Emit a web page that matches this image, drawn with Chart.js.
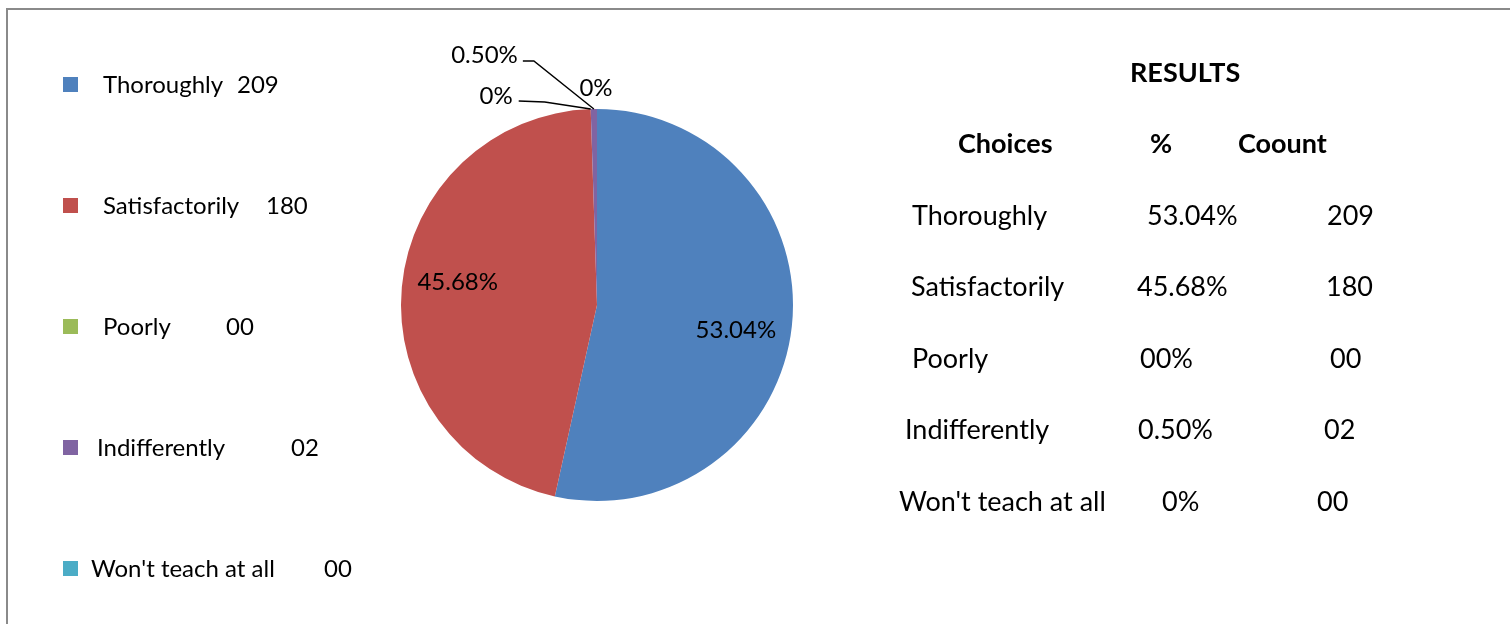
<!DOCTYPE html>
<html>
<head>
<meta charset="utf-8">
<script src="https://cdn.jsdelivr.net/npm/chart.js@4/dist/chart.umd.min.js"></script>
<style>
  html, body { margin: 0; padding: 0; background: #fff; }
  body { width: 1510px; height: 624px; position: relative; overflow: hidden; font-family: Lato, "Open Sans", sans-serif; color: #000; }
  #frame { position: absolute; left: 6px; top: 8px; width: 1520px; height: 640px; border-top: 2px solid #8a8a8a; border-left: 2px solid #8a8a8a; }
  #pie { position: absolute; left: 0; top: 0; }
  .leg { position: absolute; font-size: 24px; line-height: 30px; height: 30px; white-space: nowrap; }
  .leg .box { position: absolute; width: 15px; height: 15px; top: 8px; }
  .leg span { position: absolute; top: 0; }
  .tx { position: absolute; font-size: 27px; line-height: 34px; white-space: nowrap; transform: translateY(-50%); }
  .b { font-weight: bold; }
</style>
</head>
<body>
<div id="frame"></div>
<canvas id="pie" width="1510" height="624"></canvas>
<div id="legend"></div>
<div id="table"></div>
<script>
// ----------------------
// DATA
// ----------------------
const choices = ["Thoroughly", "Satisfactorily", "Poorly", "Indifferently", "Won't teach at all"];
const counts = [209, 180, 0, 2, 0];
const countLabels = ["209", "180", "00", "02", "00"];
const pctLabels = ["53.04%", "45.68%", "0%", "0.50%", "0%"];
const tablePct = ["53.04%", "45.68%", "00%", "0.50%", "0%"];
const colors = ["#4F81BD", "#C0504D", "#9BBB59", "#8064A2", "#4BACC6"];

// ----------------------
// LEGEND (left)
// ----------------------
const legY = [84, 205, 326, 447, 568];
const legTextX = [103, 103, 103, 97, 91];
const legCountX = [237, 266, 226, 291, 324];

const legend = document.getElementById("legend");
choices.forEach((c, i) => {
  const d = document.createElement("div");
  d.className = "leg";
  d.style.left = "0px";
  d.style.top = (legY[i] - 15) + "px";
  d.innerHTML =
    `<div class="box" style="left:63px;background:${colors[i]}"></div>` +
    `<span style="left:${legTextX[i]}px">${c}</span>` +
    `<span style="left:${legCountX[i]}px">${countLabels[i]}</span>`;
  legend.appendChild(d);
});

// ----------------------
// RESULTS TABLE (right)
// ----------------------
const rowY = [215, 286, 358, 429, 501];
const colChoiceX = [912, 911, 912, 905, 899];
const colPctX = [1147, 1137, 1140, 1138, 1162];
const colCountX = [1327, 1326, 1330, 1324, 1317];

const table = document.getElementById("table");
function addText(txt, x, y, cls) {
  const d = document.createElement("div");
  d.className = "tx " + (cls || "");
  d.style.left = x + "px";
  d.style.top = y + "px";
  d.textContent = txt;
  table.appendChild(d);
}
addText("RESULTS", 1130, 72, "b");
addText("Choices", 958, 143, "b");
addText("%", 1150, 143, "b");
addText("Coount", 1238, 143, "b");
choices.forEach((c, i) => {
  addText(c, colChoiceX[i], rowY[i]);
  addText(tablePct[i], colPctX[i], rowY[i]);
  addText(countLabels[i], colCountX[i], rowY[i]);
});

// ----------------------
// PIE LABELS PLUGIN
// ----------------------
// outside labels for the tiny slices: elbow, line end and text offsets from the arc edge
const outside = {
  2: { elbow: [-46, -7], end: [-72, -8], text: [-78, -13], align: "right" },
  3: { elbow: [-60, -48], end: [-71, -48], text: [-76, -54], align: "right" },
  4: { text: [-1, -21], align: "center" }
};

const pieLabels = {
  id: "pieLabels",
  afterDatasetsDraw(chart) {
    const ctx = chart.ctx;
    const meta = chart.getDatasetMeta(0);
    ctx.save();
    ctx.font = "24px Lato, 'Open Sans', sans-serif";
    ctx.fillStyle = "#000";
    ctx.strokeStyle = "#000";
    ctx.lineWidth = 1.5;
    ctx.textBaseline = "middle";
    meta.data.forEach((arc, i) => {
      const p = arc.getProps(["x", "y", "startAngle", "endAngle", "outerRadius"], true);
      const mid = (p.startAngle + p.endAngle) / 2;
      const o = outside[i];
      if (!o) {
        // Excel's best-fit puts these a little clockwise of the slice middle
        const a = mid + 4 * Math.PI / 180;
        const r = p.outerRadius * 0.72;
        ctx.textAlign = "center";
        ctx.fillText(pctLabels[i], p.x + r * Math.cos(a), p.y + r * Math.sin(a));
        return;
      }
      const ax = p.x + p.outerRadius * Math.cos(mid);
      const ay = p.y + p.outerRadius * Math.sin(mid);
      if (o.elbow) {
        ctx.beginPath();
        ctx.moveTo(ax, ay);
        ctx.lineTo(ax + o.elbow[0], ay + o.elbow[1]);
        ctx.lineTo(ax + o.end[0], ay + o.end[1]);
        ctx.stroke();
      }
      ctx.textAlign = o.align;
      ctx.fillText(pctLabels[i], ax + o.text[0], ay + o.text[1]);
    });
    ctx.restore();
  }
};

// ----------------------
// CHART
// ----------------------
new Chart(document.getElementById("pie").getContext("2d"), {
  type: "pie",
  data: {
    labels: choices,
    datasets: [{
      data: counts,
      backgroundColor: colors,
      borderWidth: 0,
      hoverOffset: 0
    }]
  },
  options: {
    responsive: false,
    animation: false,
    layout: { padding: { left: 401, right: 717, top: 109, bottom: 123 } },
    plugins: {
      legend: { display: false },
      tooltip: { enabled: false }
    }
  },
  plugins: [pieLabels]
});
</script>
</body>
</html>
